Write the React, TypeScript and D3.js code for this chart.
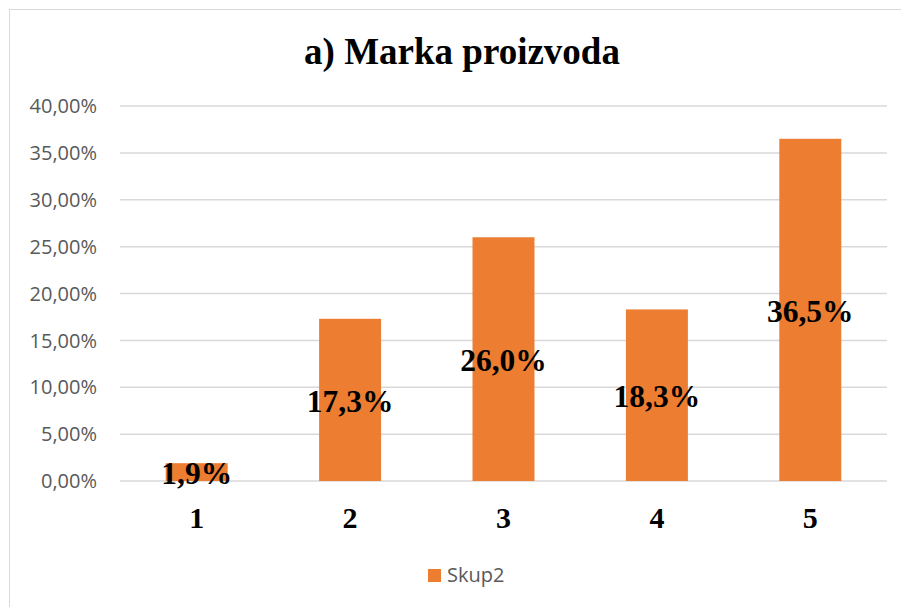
import React from "react";
import * as d3 from "d3";

const categories = ["1", "2", "3", "4", "5"];
const values = [1.9, 17.3, 26.0, 18.3, 36.5];
const yTicks = [0, 5, 10, 15, 20, 25, 30, 35, 40];
const seriesName = "Skup2";
const title = "a) Marka proizvoda";

const W = 901;
const H = 607;
const plot = { left: 120, right: 887, top: 106, bottom: 481 };

export default function App() {
  const x = d3
    .scaleBand<string>()
    .domain(categories)
    .range([plot.left, plot.right])
    .paddingInner(0.596)
    .paddingOuter(0.298);
  const y = d3.scaleLinear().domain([0, 40]).range([plot.bottom, plot.top]);
  const fmtTick = (v: number) => v.toFixed(2).replace(".", ",") + "%";
  const fmtLabel = (v: number) => v.toFixed(1).replace(".", ",") + "%";

  return (
    <svg
      width={W}
      height={H}
      style={{ position: "absolute", left: 0, top: 0, background: "#fff" }}
    >
      <rect x={9.5} y={9.5} width={W + 20} height={H + 20} fill="#fff" stroke="#d9d9d9" strokeWidth={1} />
      <text
        x={462}
        y={64}
        textAnchor="middle"
        fontFamily="'Liberation Serif', 'Times New Roman', serif"
        fontWeight="bold"
        fontSize={37}
        fill="#000"
      >
        {title}
      </text>
      {yTicks.map((t) => (
        <g key={t}>
          <line
            x1={plot.left}
            x2={plot.right}
            y1={y(t)}
            y2={y(t)}
            stroke="#d9d9d9"
            strokeWidth={1.5}
          />
          <text
            x={97}
            y={y(t)}
            dy="0.36em"
            textAnchor="end"
            fontFamily="'Open Sans', sans-serif"
            fontSize={20}
            fill="#595959"
          >
            {fmtTick(t)}
          </text>
        </g>
      ))}
      {categories.map((c, i) => (
        <rect
          key={c}
          x={x(c)}
          y={y(values[i])}
          width={x.bandwidth()}
          height={y(0) - y(values[i])}
          fill="#ED7D31"
        />
      ))}
      {categories.map((c) => (
        <text
          key={"c" + c}
          x={(x(c) as number) + x.bandwidth() / 2}
          y={528}
          textAnchor="middle"
          fontFamily="'Liberation Serif', 'Times New Roman', serif"
          fontWeight="bold"
          fontSize={30}
          fill="#000"
        >
          {c}
        </text>
      ))}
      {categories.map((c, i) => (
        <text
          key={"l" + c}
          x={(x(c) as number) + x.bandwidth() / 2}
          y={(y(values[i]) + y(0)) / 2}
          dy="0.37em"
          textAnchor="middle"
          fontFamily="'Liberation Serif', 'Times New Roman', serif"
          fontWeight="bold"
          fontSize={31.5}
          fill="#000"
        >
          {fmtLabel(values[i])}
        </text>
      ))}
      <rect x={428} y={569} width={13} height={13} fill="#ED7D31" />
      <text
        x={447}
        y={582}
        fontFamily="'Open Sans', sans-serif"
        fontSize={20}
        fill="#595959"
      >
        {seriesName}
      </text>
    </svg>
  );
}
